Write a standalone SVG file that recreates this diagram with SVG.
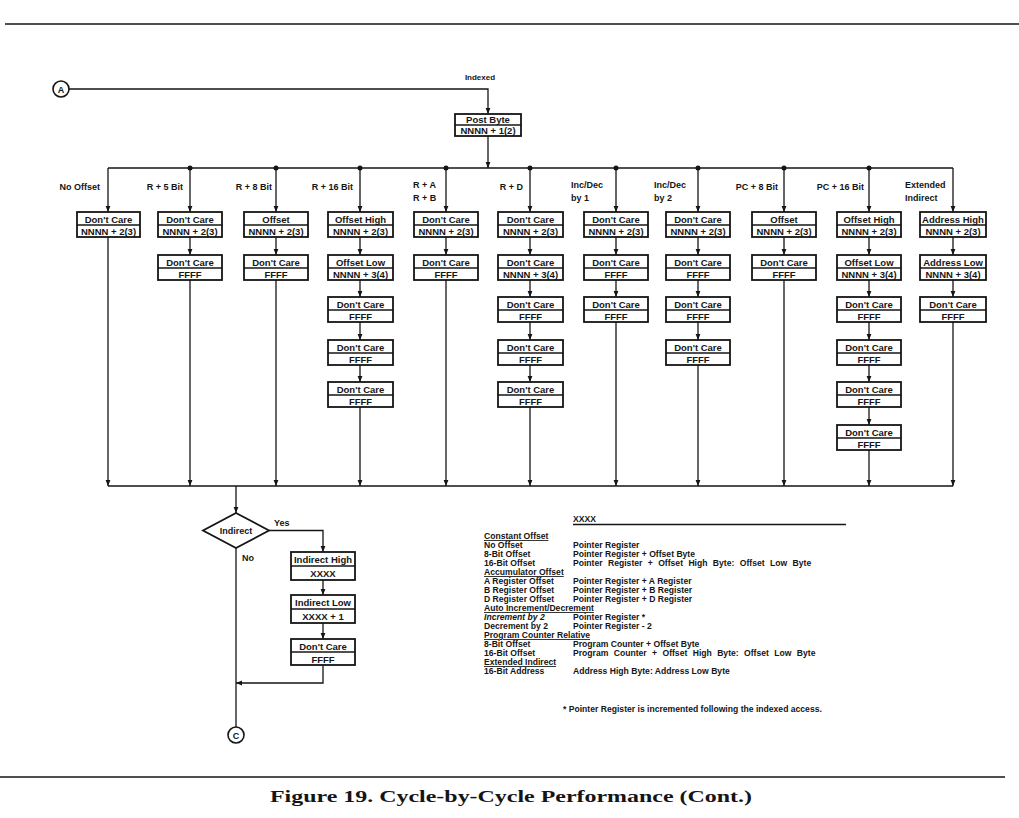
<svg xmlns="http://www.w3.org/2000/svg" width="1019" height="818" viewBox="0 0 1019 818">
<defs>
<style>
.ln{stroke:#151515;stroke-width:1.3;fill:none}
.rule{stroke:#151515;stroke-width:1.6;fill:none}
.bx rect{fill:#fff;stroke:#151515;stroke-width:1.8}
.bx line{stroke:#151515;stroke-width:1.3}
.t{font-family:"Liberation Sans",Arial,sans-serif;font-weight:bold;font-size:9px;fill:#151515}
.bx text{font-size:9.5px}
.lg{font-size:8.6px}
.c{text-anchor:middle}
.e{text-anchor:end}
.u{text-decoration:underline}
.dot{fill:#151515}
.cap{font-family:"Liberation Serif","Times New Roman",serif;font-weight:bold;font-size:17px;fill:#151515}
</style>
<marker id="ah" viewBox="0 0 6 6" refX="6" refY="3" markerWidth="6" markerHeight="6" markerUnits="userSpaceOnUse" orient="auto">
<path d="M0,0.6 L6,3 L0,5.4 z" fill="#151515"/>
</marker>
</defs>
<rect width="1019" height="818" fill="#fff"/>
<line class="rule" x1="5" y1="24" x2="1019" y2="24"/>
<line class="rule" x1="0" y1="777" x2="1005" y2="777"/>
<text class="cap" x="270" y="802" textLength="482" lengthAdjust="spacingAndGlyphs">Figure 19.  Cycle-by-Cycle Performance (Cont.)</text>

<g id="connectors">
<polyline class="ln" points="69,89 488,89 488,114" marker-end="url(#ah)"/>
<line class="ln" x1="488" y1="136" x2="488" y2="168" marker-end="url(#ah)"/>
<line class="ln" x1="108" y1="168" x2="953" y2="168"/>
<line class="ln" x1="108" y1="486" x2="953" y2="486"/>
<circle class="dot" cx="190" cy="168" r="2.5"/>
<circle class="dot" cx="276" cy="168" r="2.5"/>
<circle class="dot" cx="360" cy="168" r="2.5"/>
<circle class="dot" cx="446" cy="168" r="2.5"/>
<circle class="dot" cx="530" cy="168" r="2.5"/>
<circle class="dot" cx="616" cy="168" r="2.5"/>
<circle class="dot" cx="698" cy="168" r="2.5"/>
<circle class="dot" cx="784" cy="168" r="2.5"/>
<circle class="dot" cx="869" cy="168" r="2.5"/>
<line class="ln" x1="108" y1="168" x2="108" y2="212" marker-end="url(#ah)"/>
<line class="ln" x1="108" y1="237" x2="108" y2="486" marker-end="url(#ah)"/>
<line class="ln" x1="190" y1="168" x2="190" y2="212" marker-end="url(#ah)"/>
<line class="ln" x1="190" y1="237" x2="190" y2="255" marker-end="url(#ah)"/>
<line class="ln" x1="190" y1="280" x2="190" y2="486" marker-end="url(#ah)"/>
<line class="ln" x1="276" y1="168" x2="276" y2="212" marker-end="url(#ah)"/>
<line class="ln" x1="276" y1="237" x2="276" y2="255" marker-end="url(#ah)"/>
<line class="ln" x1="276" y1="280" x2="276" y2="486" marker-end="url(#ah)"/>
<line class="ln" x1="360" y1="168" x2="360" y2="212" marker-end="url(#ah)"/>
<line class="ln" x1="360" y1="237" x2="360" y2="255" marker-end="url(#ah)"/>
<line class="ln" x1="360" y1="280" x2="360" y2="297" marker-end="url(#ah)"/>
<line class="ln" x1="360" y1="322" x2="360" y2="340" marker-end="url(#ah)"/>
<line class="ln" x1="360" y1="365" x2="360" y2="382" marker-end="url(#ah)"/>
<line class="ln" x1="360" y1="407" x2="360" y2="486" marker-end="url(#ah)"/>
<line class="ln" x1="446" y1="168" x2="446" y2="212" marker-end="url(#ah)"/>
<line class="ln" x1="446" y1="237" x2="446" y2="255" marker-end="url(#ah)"/>
<line class="ln" x1="446" y1="280" x2="446" y2="486" marker-end="url(#ah)"/>
<line class="ln" x1="530" y1="168" x2="530" y2="212" marker-end="url(#ah)"/>
<line class="ln" x1="530" y1="237" x2="530" y2="255" marker-end="url(#ah)"/>
<line class="ln" x1="530" y1="280" x2="530" y2="297" marker-end="url(#ah)"/>
<line class="ln" x1="530" y1="322" x2="530" y2="340" marker-end="url(#ah)"/>
<line class="ln" x1="530" y1="365" x2="530" y2="382" marker-end="url(#ah)"/>
<line class="ln" x1="530" y1="407" x2="530" y2="486" marker-end="url(#ah)"/>
<line class="ln" x1="616" y1="168" x2="616" y2="212" marker-end="url(#ah)"/>
<line class="ln" x1="616" y1="237" x2="616" y2="255" marker-end="url(#ah)"/>
<line class="ln" x1="616" y1="280" x2="616" y2="297" marker-end="url(#ah)"/>
<line class="ln" x1="616" y1="322" x2="616" y2="486" marker-end="url(#ah)"/>
<line class="ln" x1="698" y1="168" x2="698" y2="212" marker-end="url(#ah)"/>
<line class="ln" x1="698" y1="237" x2="698" y2="255" marker-end="url(#ah)"/>
<line class="ln" x1="698" y1="280" x2="698" y2="297" marker-end="url(#ah)"/>
<line class="ln" x1="698" y1="322" x2="698" y2="340" marker-end="url(#ah)"/>
<line class="ln" x1="698" y1="365" x2="698" y2="486" marker-end="url(#ah)"/>
<line class="ln" x1="784" y1="168" x2="784" y2="212" marker-end="url(#ah)"/>
<line class="ln" x1="784" y1="237" x2="784" y2="255" marker-end="url(#ah)"/>
<line class="ln" x1="784" y1="280" x2="784" y2="486" marker-end="url(#ah)"/>
<line class="ln" x1="869" y1="168" x2="869" y2="212" marker-end="url(#ah)"/>
<line class="ln" x1="869" y1="237" x2="869" y2="255" marker-end="url(#ah)"/>
<line class="ln" x1="869" y1="280" x2="869" y2="297" marker-end="url(#ah)"/>
<line class="ln" x1="869" y1="322" x2="869" y2="340" marker-end="url(#ah)"/>
<line class="ln" x1="869" y1="365" x2="869" y2="382" marker-end="url(#ah)"/>
<line class="ln" x1="869" y1="407" x2="869" y2="425" marker-end="url(#ah)"/>
<line class="ln" x1="869" y1="450" x2="869" y2="486" marker-end="url(#ah)"/>
<line class="ln" x1="953" y1="168" x2="953" y2="212" marker-end="url(#ah)"/>
<line class="ln" x1="953" y1="237" x2="953" y2="255" marker-end="url(#ah)"/>
<line class="ln" x1="953" y1="280" x2="953" y2="297" marker-end="url(#ah)"/>
<line class="ln" x1="953" y1="322" x2="953" y2="486" marker-end="url(#ah)"/>
<line class="ln" x1="236" y1="486" x2="236" y2="513" marker-end="url(#ah)"/>
<polyline class="ln" points="269,530.5 323,530.5 323,552" marker-end="url(#ah)"/>
<line class="ln" x1="323" y1="580" x2="323" y2="595" marker-end="url(#ah)"/>
<line class="ln" x1="323" y1="623" x2="323" y2="639" marker-end="url(#ah)"/>
<polyline class="ln" points="323,665 323,683 236,683" marker-end="url(#ah)"/>
<line class="ln" x1="236" y1="548" x2="236" y2="727"/>
</g>

<g id="labels" class="t">
<text class="c" x="480" y="80" font-size="8">Indexed</text>
<text class="e" x="100" y="190">No Offset</text>
<text class="e" x="183" y="190">R + 5 Bit</text>
<text class="e" x="272" y="190">R + 8 Bit</text>
<text class="e" x="353" y="190">R + 16 Bit</text>
<text x="413" y="188">R + A</text>
<text x="413" y="201">R + B</text>
<text class="e" x="523" y="190">R + D</text>
<text x="571" y="188">Inc/Dec</text>
<text x="571" y="201">by 1</text>
<text x="654" y="188">Inc/Dec</text>
<text x="654" y="201">by 2</text>
<text class="e" x="778" y="190">PC + 8 Bit</text>
<text class="e" x="864" y="190">PC + 16 Bit</text>
<text x="905" y="188">Extended</text>
<text x="905" y="201">Indirect</text>
<text x="274" y="526">Yes</text>
<text x="242" y="561">No</text>
</g>

<g id="connA"><circle cx="61" cy="89" r="8" fill="#fff" stroke="#151515" stroke-width="1.6"/><text class="t c" x="61" y="92.5">A</text></g>
<g id="connC"><circle cx="236" cy="735" r="8" fill="#fff" stroke="#151515" stroke-width="1.6"/><text class="t c" x="236" y="738.5">C</text></g>

<g id="postbyte" class="bx"><rect x="455" y="114" width="66" height="22"/><line x1="455" y1="125" x2="521" y2="125"/><text class="t c" x="488" y="123">Post Byte</text><text class="t c" x="488" y="134">NNNN + 1(2)</text></g>

<g id="c1b1" class="bx"><rect x="77" y="212" width="63" height="25"/><line x1="77" y1="225" x2="140" y2="225"/><text class="t c" x="108.5" y="222.5">Don't Care</text><text class="t c" x="108.5" y="234.5">NNNN + 2(3)</text></g>
<g id="c2b1" class="bx"><rect x="158" y="212" width="64" height="25"/><line x1="158" y1="225" x2="222" y2="225"/><text class="t c" x="190" y="222.5">Don't Care</text><text class="t c" x="190" y="234.5">NNNN + 2(3)</text></g>
<g id="c2b2" class="bx"><rect x="158" y="255" width="64" height="25"/><line x1="158" y1="268" x2="222" y2="268"/><text class="t c" x="190" y="265.5">Don't Care</text><text class="t c" x="190" y="277.5">FFFF</text></g>
<g id="c3b1" class="bx"><rect x="244" y="212" width="64" height="25"/><line x1="244" y1="225" x2="308" y2="225"/><text class="t c" x="276" y="222.5">Offset</text><text class="t c" x="276" y="234.5">NNNN + 2(3)</text></g>
<g id="c3b2" class="bx"><rect x="244" y="255" width="64" height="25"/><line x1="244" y1="268" x2="308" y2="268"/><text class="t c" x="276" y="265.5">Don't Care</text><text class="t c" x="276" y="277.5">FFFF</text></g>
<g id="c4b1" class="bx"><rect x="328" y="212" width="65" height="25"/><line x1="328" y1="225" x2="393" y2="225"/><text class="t c" x="360.5" y="222.5">Offset High</text><text class="t c" x="360.5" y="234.5">NNNN + 2(3)</text></g>
<g id="c4b2" class="bx"><rect x="328" y="255" width="65" height="25"/><line x1="328" y1="268" x2="393" y2="268"/><text class="t c" x="360.5" y="265.5">Offset Low</text><text class="t c" x="360.5" y="277.5">NNNN + 3(4)</text></g>
<g id="c4b3" class="bx"><rect x="328" y="297" width="65" height="25"/><line x1="328" y1="310" x2="393" y2="310"/><text class="t c" x="360.5" y="307.5">Don't Care</text><text class="t c" x="360.5" y="319.5">FFFF</text></g>
<g id="c4b4" class="bx"><rect x="328" y="340" width="65" height="25"/><line x1="328" y1="353" x2="393" y2="353"/><text class="t c" x="360.5" y="350.5">Don't Care</text><text class="t c" x="360.5" y="362.5">FFFF</text></g>
<g id="c4b5" class="bx"><rect x="328" y="382" width="65" height="25"/><line x1="328" y1="395" x2="393" y2="395"/><text class="t c" x="360.5" y="392.5">Don't Care</text><text class="t c" x="360.5" y="404.5">FFFF</text></g>
<g id="c5b1" class="bx"><rect x="414" y="212" width="64" height="25"/><line x1="414" y1="225" x2="478" y2="225"/><text class="t c" x="446" y="222.5">Don't Care</text><text class="t c" x="446" y="234.5">NNNN + 2(3)</text></g>
<g id="c5b2" class="bx"><rect x="414" y="255" width="64" height="25"/><line x1="414" y1="268" x2="478" y2="268"/><text class="t c" x="446" y="265.5">Don't Care</text><text class="t c" x="446" y="277.5">FFFF</text></g>
<g id="c6b1" class="bx"><rect x="498" y="212" width="65" height="25"/><line x1="498" y1="225" x2="563" y2="225"/><text class="t c" x="530.5" y="222.5">Don't Care</text><text class="t c" x="530.5" y="234.5">NNNN + 2(3)</text></g>
<g id="c6b2" class="bx"><rect x="498" y="255" width="65" height="25"/><line x1="498" y1="268" x2="563" y2="268"/><text class="t c" x="530.5" y="265.5">Don't Care</text><text class="t c" x="530.5" y="277.5">NNNN + 3(4)</text></g>
<g id="c6b3" class="bx"><rect x="498" y="297" width="65" height="25"/><line x1="498" y1="310" x2="563" y2="310"/><text class="t c" x="530.5" y="307.5">Don't Care</text><text class="t c" x="530.5" y="319.5">FFFF</text></g>
<g id="c6b4" class="bx"><rect x="498" y="340" width="65" height="25"/><line x1="498" y1="353" x2="563" y2="353"/><text class="t c" x="530.5" y="350.5">Don't Care</text><text class="t c" x="530.5" y="362.5">FFFF</text></g>
<g id="c6b5" class="bx"><rect x="498" y="382" width="65" height="25"/><line x1="498" y1="395" x2="563" y2="395"/><text class="t c" x="530.5" y="392.5">Don't Care</text><text class="t c" x="530.5" y="404.5">FFFF</text></g>
<g id="c7b1" class="bx"><rect x="584" y="212" width="64" height="25"/><line x1="584" y1="225" x2="648" y2="225"/><text class="t c" x="616" y="222.5">Don't Care</text><text class="t c" x="616" y="234.5">NNNN + 2(3)</text></g>
<g id="c7b2" class="bx"><rect x="584" y="255" width="64" height="25"/><line x1="584" y1="268" x2="648" y2="268"/><text class="t c" x="616" y="265.5">Don't Care</text><text class="t c" x="616" y="277.5">FFFF</text></g>
<g id="c7b3" class="bx"><rect x="584" y="297" width="64" height="25"/><line x1="584" y1="310" x2="648" y2="310"/><text class="t c" x="616" y="307.5">Don't Care</text><text class="t c" x="616" y="319.5">FFFF</text></g>
<g id="c8b1" class="bx"><rect x="666" y="212" width="64" height="25"/><line x1="666" y1="225" x2="730" y2="225"/><text class="t c" x="698" y="222.5">Don't Care</text><text class="t c" x="698" y="234.5">NNNN + 2(3)</text></g>
<g id="c8b2" class="bx"><rect x="666" y="255" width="64" height="25"/><line x1="666" y1="268" x2="730" y2="268"/><text class="t c" x="698" y="265.5">Don't Care</text><text class="t c" x="698" y="277.5">FFFF</text></g>
<g id="c8b3" class="bx"><rect x="666" y="297" width="64" height="25"/><line x1="666" y1="310" x2="730" y2="310"/><text class="t c" x="698" y="307.5">Don't Care</text><text class="t c" x="698" y="319.5">FFFF</text></g>
<g id="c8b4" class="bx"><rect x="666" y="340" width="64" height="25"/><line x1="666" y1="353" x2="730" y2="353"/><text class="t c" x="698" y="350.5">Don't Care</text><text class="t c" x="698" y="362.5">FFFF</text></g>
<g id="c9b1" class="bx"><rect x="752" y="212" width="64" height="25"/><line x1="752" y1="225" x2="816" y2="225"/><text class="t c" x="784" y="222.5">Offset</text><text class="t c" x="784" y="234.5">NNNN + 2(3)</text></g>
<g id="c9b2" class="bx"><rect x="752" y="255" width="64" height="25"/><line x1="752" y1="268" x2="816" y2="268"/><text class="t c" x="784" y="265.5">Don't Care</text><text class="t c" x="784" y="277.5">FFFF</text></g>
<g id="c10b1" class="bx"><rect x="837" y="212" width="64" height="25"/><line x1="837" y1="225" x2="901" y2="225"/><text class="t c" x="869" y="222.5">Offset High</text><text class="t c" x="869" y="234.5">NNNN + 2(3)</text></g>
<g id="c10b2" class="bx"><rect x="837" y="255" width="64" height="25"/><line x1="837" y1="268" x2="901" y2="268"/><text class="t c" x="869" y="265.5">Offset Low</text><text class="t c" x="869" y="277.5">NNNN + 3(4)</text></g>
<g id="c10b3" class="bx"><rect x="837" y="297" width="64" height="25"/><line x1="837" y1="310" x2="901" y2="310"/><text class="t c" x="869" y="307.5">Don't Care</text><text class="t c" x="869" y="319.5">FFFF</text></g>
<g id="c10b4" class="bx"><rect x="837" y="340" width="64" height="25"/><line x1="837" y1="353" x2="901" y2="353"/><text class="t c" x="869" y="350.5">Don't Care</text><text class="t c" x="869" y="362.5">FFFF</text></g>
<g id="c10b5" class="bx"><rect x="837" y="382" width="64" height="25"/><line x1="837" y1="395" x2="901" y2="395"/><text class="t c" x="869" y="392.5">Don't Care</text><text class="t c" x="869" y="404.5">FFFF</text></g>
<g id="c10b6" class="bx"><rect x="837" y="425" width="64" height="25"/><line x1="837" y1="438" x2="901" y2="438"/><text class="t c" x="869" y="435.5">Don't Care</text><text class="t c" x="869" y="447.5">FFFF</text></g>
<g id="c11b1" class="bx"><rect x="920" y="212" width="66" height="25"/><line x1="920" y1="225" x2="986" y2="225"/><text class="t c" x="953" y="222.5">Address High</text><text class="t c" x="953" y="234.5">NNNN + 2(3)</text></g>
<g id="c11b2" class="bx"><rect x="920" y="255" width="66" height="25"/><line x1="920" y1="268" x2="986" y2="268"/><text class="t c" x="953" y="265.5">Address Low</text><text class="t c" x="953" y="277.5">NNNN + 3(4)</text></g>
<g id="c11b3" class="bx"><rect x="920" y="297" width="66" height="25"/><line x1="920" y1="310" x2="986" y2="310"/><text class="t c" x="953" y="307.5">Don't Care</text><text class="t c" x="953" y="319.5">FFFF</text></g>

<g id="indirect"><polygon points="236,513 269,530.5 236,548 203,530.5" fill="#fff" stroke="#151515" stroke-width="1.8"/><text class="t c" x="236" y="534">Indirect</text></g>
<g id="indHigh" class="bx"><rect x="291" y="552" width="64" height="28"/><line x1="291" y1="566" x2="355" y2="566"/><text class="t c" x="323" y="563">Indirect High</text><text class="t c" x="323" y="577">XXXX</text></g>
<g id="indLow" class="bx"><rect x="291" y="595" width="64" height="28"/><line x1="291" y1="609" x2="355" y2="609"/><text class="t c" x="323" y="606">Indirect Low</text><text class="t c" x="323" y="620">XXXX + 1</text></g>
<g id="indDC" class="bx"><rect x="291" y="639" width="64" height="26"/><line x1="291" y1="652" x2="355" y2="652"/><text class="t c" x="323" y="649.5">Don't Care</text><text class="t c" x="323" y="662.5">FFFF</text></g>

<g id="legend" class="t lg">
<text x="573" y="522">XXXX</text>
<line class="ln" x1="573" y1="524.5" x2="846" y2="524.5"/>
<text class="u" x="484" y="539">Constant Offset</text>
<text x="484" y="548">No Offset</text>
<text x="484" y="557">8-Bit Offset</text>
<text x="484" y="566">16-Bit Offset</text>
<text class="u" x="484" y="575">Accumulator Offset</text>
<text x="484" y="584">A Register Offset</text>
<text x="484" y="593">B Register Offset</text>
<text x="484" y="602">D Register Offset</text>
<text class="u" x="484" y="611">Auto Increment/Decrement</text>
<text x="484" y="620" font-style="italic">Increment by 2</text>
<text x="484" y="629">Decrement by 2</text>
<text class="u" x="484" y="638">Program Counter Relative</text>
<text x="484" y="647">8-Bit Offset</text>
<text x="484" y="656">16-Bit Offset</text>
<text class="u" x="484" y="665">Extended Indirect</text>
<text x="484" y="674">16-Bit Address</text>
<text x="573" y="548">Pointer Register</text>
<text x="573" y="557">Pointer Register + Offset Byte</text>
<text x="573" y="566" word-spacing="3">Pointer Register + Offset High Byte: Offset Low Byte</text>
<text x="573" y="584">Pointer Register + A Register</text>
<text x="573" y="593">Pointer Register + B Register</text>
<text x="573" y="602">Pointer Register + D Register</text>
<text x="573" y="620">Pointer Register *</text>
<text x="573" y="629">Pointer Register - 2</text>
<text x="573" y="647">Program Counter + Offset Byte</text>
<text x="573" y="656" word-spacing="3">Program Counter + Offset High Byte: Offset Low Byte</text>
<text x="573" y="674">Address High Byte: Address Low Byte</text>
<text x="563" y="712">* Pointer Register is incremented following the indexed access.</text>
</g>
</svg>
